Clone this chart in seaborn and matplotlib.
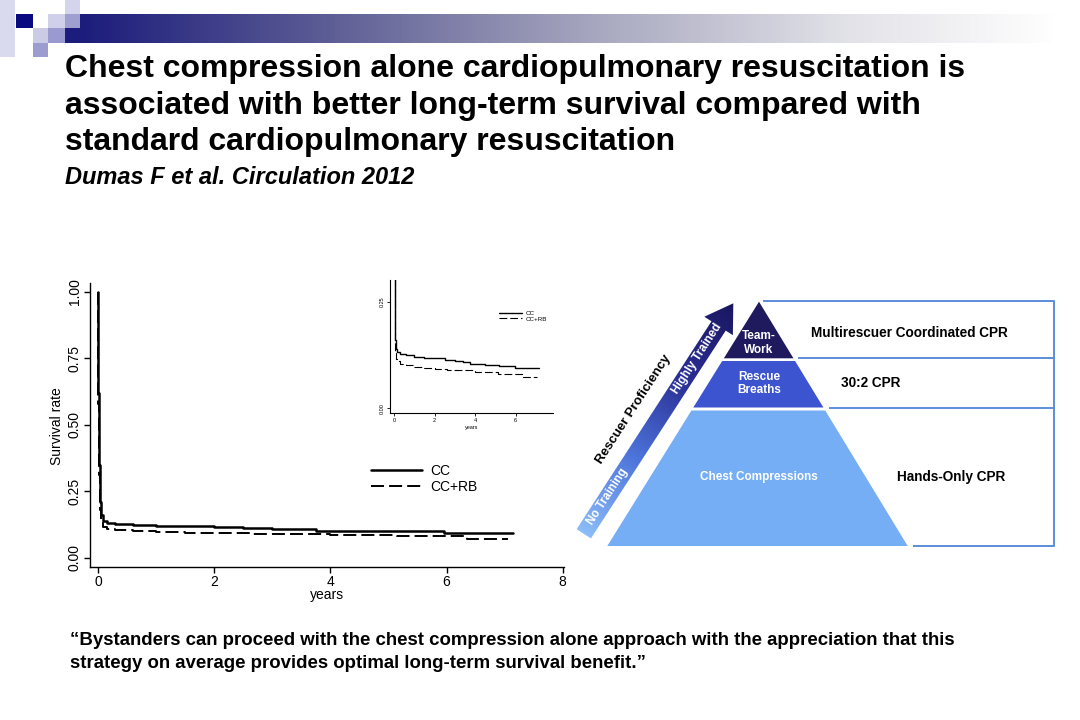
import numpy as np
import pandas as pd
import matplotlib
matplotlib.use("Agg")
import matplotlib.pyplot as plt
import seaborn as sns
from matplotlib.patches import Polygon, Rectangle
from matplotlib.colors import LinearSegmentedColormap

# Kaplan-Meier curves (Dumas F et al. 2012)
cc_years = [0, 0.01, 0.02, 0.03, 0.05, 0.08, 0.15, 0.3, 0.6, 1.0, 1.5, 2.0, 2.5, 3.0, 3.4, 3.75, 4.5, 5.2, 5.95, 7.15]
cc_surv = [1.0, 0.62, 0.35, 0.21, 0.16, 0.14, 0.132, 0.128, 0.124, 0.121, 0.119, 0.117, 0.113, 0.110, 0.108, 0.103, 0.102, 0.100, 0.094, 0.094]
rb_years = [0, 0.01, 0.02, 0.03, 0.05, 0.08, 0.15, 0.3, 0.6, 1.0, 1.5, 2.0, 2.6, 3.3, 4.0, 5.15, 6.35, 7.05]
rb_surv = [1.0, 0.58, 0.31, 0.18, 0.13, 0.116, 0.110, 0.105, 0.101, 0.098, 0.095, 0.093, 0.091, 0.089, 0.086, 0.081, 0.073, 0.073]
groups = ["CC", "CC+RB"]
stats_lines = ["Log rank p=0.03", "Tarone Ware p=0.009", "HR=0.90 (0.83-0.98), p=0.02"]

title_lines = ["Chest compression alone cardiopulmonary resuscitation is",
               "associated with better long-term survival compared with",
               "standard cardiopulmonary resuscitation"]
citation = "Dumas F et al. Circulation 2012"
quote_lines = ["\u201cBystanders can proceed with the chest compression alone approach with the appreciation that this",
               "strategy on average provides optimal long-term survival benefit.\u201d"]

# CPR pyramid
tier_labels = ["Team-\nWork", "Rescue\nBreaths", "Chest Compressions"]
tier_colors = ["#1f1a5e", "#3c54d0", "#76aef5"]
cpr_labels = ["Multirescuer Coordinated CPR", "30:2 CPR", "Hands-Only CPR"]
arrow_labels = ["No Training", "Highly Trained"]
arrow_title = "Rescuer Proficiency"

df = pd.concat([
    pd.DataFrame({"years": cc_years, "surv": cc_surv, "group": groups[0]}),
    pd.DataFrame({"years": rb_years, "surv": rb_surv, "group": groups[1]}),
])

sns.set_style("ticks")
plt.rcParams["font.family"] = ["Liberation Sans", "DejaVu Sans"]
plt.rcParams["text.color"] = "black"
plt.rcParams["axes.labelcolor"] = "black"
plt.rcParams["xtick.color"] = "black"
plt.rcParams["ytick.color"] = "black"
plt.rcParams["axes.edgecolor"] = "black"

W, H = 1080, 720
fig = plt.figure(figsize=(10.8, 7.2), dpi=100)
bg = fig.add_axes([0, 0, 1, 1])
bg.axis("off")

def fig_box(l, t, r, b):
    return [l / W, 1 - b / H, (r - l) / W, (b - t) / H]

# ---- top-left decoration
squares = [(0, 0, 15, 57, "#dadaee"), (16, 14, 33, 28, "#0a0a80"),
           (33, 28, 48, 43, "#cbcbe6"), (33, 43, 48, 57, "#9c9ccf"),
           (48, 14, 65, 28, "#d0d0ea"), (48, 28, 65, 43, "#9a9ad0"),
           (65, 0, 80, 14, "#d4d4ec"), (65, 14, 80, 28, "#a0a0d0"),
           (65, 28, 80, 43, "#1c1c7c")]
for x0, y0, x1, y1, c in squares:
    bg.add_patch(Rectangle((x0, y0), x1 - x0, y1 - y0, color=c, lw=0))
bar_cmap = LinearSegmentedColormap.from_list(
    "bar", [(0, "#1c1c7c"), (0.255, "#5e5e96"), (0.53, "#a8a8c0"), (0.786, "#e2e2e8"), (1, "#ffffff")])
bg.imshow(np.linspace(0, 1, 256)[None, :], cmap=bar_cmap, extent=(80, 1060, 43, 14),
          aspect="auto", interpolation="bilinear")

# ---- title and citation
for i, line in enumerate(title_lines):
    bg.text(65, 77.3 + 36.5 * i, line, fontsize=23, weight="bold", va="baseline")
bg.text(65, 183.5, citation, fontsize=17, weight="bold", style="italic", va="baseline")
for i, line in enumerate(quote_lines):
    bg.text(70, 645 + 22.5 * i, line, fontsize=13.4, weight="bold", va="baseline")

# ---- main Kaplan-Meier plot
ax = fig.add_axes(fig_box(89.9, 283.4, 563.9, 567))
styles = [(1.8, "-"), (1.4, (0, (6.7, 2.6)))]
for g, (lw, ls) in zip(groups, styles):
    sns.lineplot(data=df[df["group"] == g], x="years", y="surv", ax=ax, color="black",
                 lw=lw, linestyle=ls, drawstyle="steps-post", estimator=None, label=g)
ax.set_xlim(-0.138, 8.02)
ax.set_ylim(-0.034, 1.032)
ax.set_xticks([0, 2, 4, 6, 8])
yt = [0, 0.25, 0.5, 0.75, 1.0]
ax.set_yticks(yt)
ax.set_yticklabels([f"{v:.2f}" for v in yt], rotation=90, va="center")
ax.tick_params(length=4, width=1, labelsize=10, pad=2)
sns.despine(ax=ax)
for s in ["left", "bottom"]:
    ax.spines[s].set_linewidth(1)
ax.set_xlabel("years", fontsize=10)
ax.set_ylabel("Survival rate", fontsize=10)
ax.xaxis.set_label_coords(0.5, -0.075)
ax.yaxis.set_label_coords(-0.0546, 0.497)
h, l = ax.get_legend_handles_labels()
ax.legend(h, l, loc="center left", bbox_to_anchor=(370.6 / W, 1 - 478.9 / H),
          bbox_transform=fig.transFigure, frameon=False, fontsize=10, handlelength=3.7,
          handletextpad=0.6, labelspacing=0.1, borderpad=0, borderaxespad=0)
for i, s in enumerate(stats_lines):
    bg.text(243, 320.5 + 11.2 * i, s, fontsize=5.6, va="center")

# ---- inset
ax2 = fig.add_axes(fig_box(390, 280, 553, 413.3))
ax2.patch.set_alpha(0)
styles2 = [(1.0, "-"), (0.8, (0, (7, 2.7)))]
for g, (lw, ls) in zip(groups, styles2):
    sns.lineplot(data=df[df["group"] == g], x="years", y="surv", ax=ax2, color="black",
                 lw=lw, linestyle=ls, drawstyle="steps-post", estimator=None, label=g)
ax2.set_xlim(-0.197, 7.84)
ax2.set_ylim(-0.0117, 0.301)
ax2.set_xticks([0, 2, 4, 6])
ax2.set_yticks([0, 0.25])
ax2.set_yticklabels(["0.00", "0.25"], rotation=90, va="center")
ax2.tick_params(length=2, width=0.6, labelsize=4, pad=1.5)
sns.despine(ax=ax2)
for s in ["left", "bottom"]:
    ax2.spines[s].set_linewidth(0.8)
ax2.set_xlabel("years", fontsize=4, labelpad=1.5)
ax2.set_ylabel("")
h2, l2 = ax2.get_legend_handles_labels()
ax2.legend(h2, l2, loc="center left", bbox_to_anchor=(499 / W, 1 - 316 / H),
           bbox_transform=fig.transFigure, frameon=False, fontsize=4.5, handlelength=3.7,
           handletextpad=0.6, labelspacing=0.05, borderpad=0, borderaxespad=0)

# ---- pyramid
apex_x, apex_y, base_y, base_l, base_r = 759, 301.7, 546, 607.3, 907.7
def edges(y):
    f = (y - apex_y) / (base_y - apex_y)
    return apex_x + (base_l - apex_x) * f, apex_x + (base_r - apex_x) * f

tier_bounds = [(301.7, 358.3), (361, 407.5), (410.5, 546)]
tier_text_y = [343, 383.5, 477.3]
for (y0, y1), c, lab, ty in zip(tier_bounds, tier_colors, tier_labels, tier_text_y):
    l0, r0 = edges(y0)
    l1, r1 = edges(y1)
    bg.add_patch(Polygon([(l0, y0), (r0, y0), (r1, y1), (l1, y1)], closed=True, color=c, lw=0))
    bg.text(759, ty, lab, color="white", fontsize=8.5, weight="bold", ha="center", va="center",
            linespacing=1.15)

line_c = "#5a8ddb"
rule_y = [300.7, 358.3, 407.7, 546]
for y in rule_y:
    bg.plot([edges(y)[1] + 5, 1054], [y, y], color=line_c, lw=1.4, solid_capstyle="butt")
bg.plot([1054, 1054], [300.7, 546], color=line_c, lw=1.4)
cpr_pos = [(810.7, 333.3), (840.7, 383.3), (896.7, 476.7)]
for lab, (x, y) in zip(cpr_labels, cpr_pos):
    bg.text(x, y, lab, fontsize=9.8, weight="bold", va="center")

# ---- gradient arrow
B = np.array([583.8, 533.8])
T = np.array([733.3, 303.3])
u = (T - B) / np.linalg.norm(T - B)
n = np.array([-u[1], u[0]])
w, hw, hl = 8.5, 17, 27
Hd = T - u * hl
pts = [B - n * w, Hd - n * w, Hd - n * hw, T, Hd + n * hw, Hd + n * w, B + n * w]
arrow = Polygon(pts, closed=True, facecolor="none", edgecolor="none")
bg.add_patch(arrow)
xs = np.linspace(560, 760, 200)
ys = np.linspace(290, 550, 260)
gx, gy = np.meshgrid(xs, ys)
proj = ((gx - B[0]) * u[0] + (gy - B[1]) * u[1]) / np.linalg.norm(T - B)
arr_cmap = LinearSegmentedColormap.from_list("arr", ["#8cbcf7", "#4d74da", "#2a2f96", "#1a1660"])
im = bg.imshow(np.clip(proj, 0, 1), cmap=arr_cmap, extent=(560, 760, 550, 290),
               aspect="auto", interpolation="bilinear")
im.set_clip_path(arrow)
ang = np.degrees(np.arctan2(-(T - B)[1], (T - B)[0]))
for lab, t in zip(arrow_labels, [44, 209]):
    p = B + u * t
    bg.text(p[0], p[1], lab, rotation=ang, color="white", fontsize=8.5, weight="bold",
            ha="center", va="center", rotation_mode="anchor")
p = B + u * 131 - n * 26
bg.text(p[0], p[1], arrow_title, rotation=ang, color="black", fontsize=9.5, weight="bold",
        ha="center", va="center", rotation_mode="anchor")

bg.set_xlim(0, W)
bg.set_ylim(H, 0)

fig.savefig("out.png", dpi=100)
